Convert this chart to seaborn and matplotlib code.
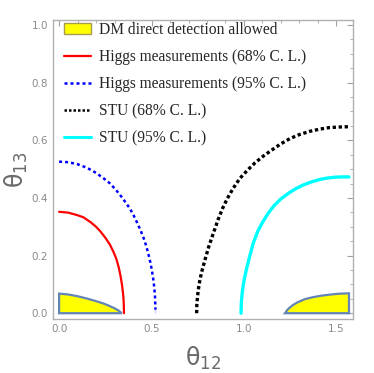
import matplotlib
matplotlib.use("Agg")
import matplotlib.pyplot as plt
import seaborn as sns
from matplotlib.patches import Patch
from matplotlib.lines import Line2D
from matplotlib.ticker import MultipleLocator

# curves (theta12, theta13)
higgs68_x = [0.0, 0.05, 0.10, 0.131, 0.17, 0.20, 0.222, 0.25, 0.275, 0.294, 0.31,
             0.323, 0.333, 0.341, 0.347, 0.350, 0.351]
higgs68_y = [0.352, 0.349, 0.340, 0.333, 0.316, 0.300, 0.285, 0.262, 0.238, 0.213, 0.188,
             0.158, 0.127, 0.095, 0.062, 0.031, 0.0]
higgs95_x = [0.0, 0.05, 0.10, 0.15, 0.20, 0.245, 0.276, 0.31, 0.34, 0.365, 0.384, 0.405,
             0.425, 0.441, 0.456, 0.47, 0.482, 0.493, 0.501, 0.509, 0.515, 0.519, 0.521, 0.521]
higgs95_y = [0.526, 0.524, 0.517, 0.505, 0.487, 0.466, 0.450, 0.426, 0.402, 0.380, 0.362, 0.337,
             0.310, 0.287, 0.263, 0.236, 0.208, 0.178, 0.152, 0.120, 0.088, 0.055, 0.025, 0.0]
stu68_x = [0.744, 0.745, 0.749, 0.755, 0.763, 0.774, 0.789, 0.81, 0.834, 0.86, 0.885, 0.91,
           0.94, 0.978, 1.02, 1.06, 1.104, 1.15, 1.20, 1.249, 1.30, 1.355, 1.411, 1.46,
           1.51, 1.555, 1.568]
stu68_y = [0.0, 0.03, 0.06, 0.09, 0.12, 0.15, 0.185, 0.232, 0.277, 0.325, 0.365, 0.398,
           0.432, 0.468, 0.497, 0.522, 0.545, 0.566, 0.588, 0.606, 0.620, 0.631, 0.639, 0.644,
           0.646, 0.647, 0.647]
stu95_x = [0.984, 0.986, 0.992, 1.002, 1.016, 1.032, 1.05, 1.075, 1.10, 1.131, 1.165, 1.20,
           1.24, 1.28, 1.32, 1.366, 1.41, 1.45, 1.492, 1.53, 1.568]
stu95_y = [0.0, 0.04, 0.08, 0.12, 0.16, 0.20, 0.243, 0.285, 0.315, 0.347, 0.375, 0.397,
           0.416, 0.432, 0.445, 0.456, 0.464, 0.469, 0.472, 0.473, 0.473]
dm_left_x = [0.0, 0.0, 0.05, 0.10, 0.15, 0.20, 0.239, 0.27, 0.30, 0.32, 0.339]
dm_left_y = [0.0, 0.068, 0.065, 0.059, 0.051, 0.042, 0.034, 0.026, 0.017, 0.010, 0.0]
dm_right_x = [1.222, 1.235, 1.25, 1.266, 1.29, 1.33, 1.375, 1.42, 1.47, 1.52, 1.568, 1.568]
dm_right_y = [0.0, 0.012, 0.021, 0.029, 0.038, 0.049, 0.056, 0.061, 0.065, 0.068, 0.069, 0.0]

labels = ["DM direct detection allowed", "Higgs measurements (68% C. L.)",
          "Higgs measurements (95% C. L.)", "STU (68% C. L.)", "STU (95% C. L.)"]

sns.set_style("white")
fig = plt.figure(figsize=(3.74, 3.73), dpi=100)
ax = fig.add_axes([0.1417, 0.1448, 0.8023, 0.8012])

gray = "#8a8a8a"
edge = "#6384b8"
ax.fill(dm_left_x, dm_left_y, facecolor="#ffff00", edgecolor=edge, lw=1.6, zorder=2)
ax.fill(dm_right_x, dm_right_y, facecolor="#ffff00", edgecolor=edge, lw=1.6, zorder=2)

sns.lineplot(x=higgs68_x, y=higgs68_y, sort=False, color="#ff0000", lw=1.6, ax=ax)
sns.lineplot(x=higgs95_x, y=higgs95_y, sort=False, color="#0000ff", lw=1.8,
             linestyle=(0, (1.2, 1.2)), ax=ax)
sns.lineplot(x=stu68_x, y=stu68_y, sort=False, color="black", lw=2.4,
             linestyle=(0, (1.0, 0.8)), ax=ax)
sns.lineplot(x=stu95_x, y=stu95_y, sort=False, color="#00ffff", lw=2.4, ax=ax)

ax.set_xlim(-0.033, 1.59)
ax.set_ylim(-0.02, 1.017)
ax.xaxis.set_major_locator(MultipleLocator(0.5))
ax.xaxis.set_minor_locator(MultipleLocator(0.1))
ax.yaxis.set_major_locator(MultipleLocator(0.2))
ax.yaxis.set_minor_locator(MultipleLocator(0.05))
ax.tick_params(which="both", direction="in", top=True, right=True, color="#a0a0a0",
               labelcolor=gray, labelsize=7.5)
ax.tick_params(which="major", length=4, width=0.8)
ax.tick_params(which="minor", length=2.2, width=0.6)
for s in ax.spines.values():
    s.set_color("#b0b0b0")
    s.set_linewidth(1.0)

ax.set_xlabel(r"$\mathsf{\theta_{12}}$", fontsize=17, color="#6a6a6a", labelpad=8)
ax.set_ylabel(r"$\mathsf{\theta_{13}}$", fontsize=17, color="#6a6a6a", labelpad=1)

handles = [Patch(facecolor="#ffff00", edgecolor="#a89c50", lw=1.0),
           Line2D([], [], color="#ff0000", lw=1.6),
           Line2D([], [], color="#0000ff", lw=1.8, linestyle=(0, (1.2, 1.2))),
           Line2D([], [], color="black", lw=1.8, linestyle=(0, (1.0, 0.8))),
           Line2D([], [], color="#00ffff", lw=2.2)]
ax.legend(handles, labels, loc="upper left", bbox_to_anchor=(0.0, 1.03), frameon=False,
          prop={"family": "Liberation Serif", "size": 11.2}, handlelength=1.75,
          handletextpad=0.5, labelspacing=0.72, borderaxespad=0.3)

fig.savefig("out.png", dpi=100)
